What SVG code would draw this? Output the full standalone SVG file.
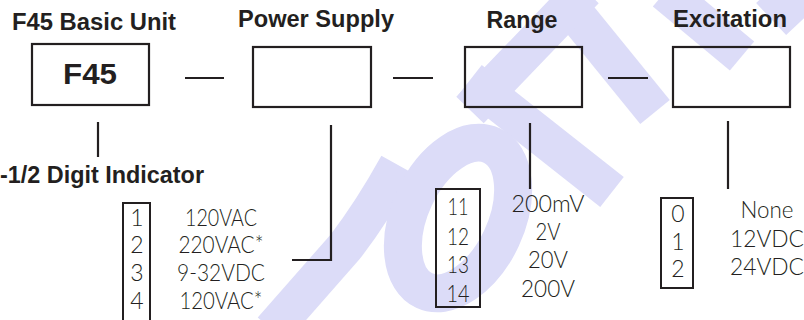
<svg xmlns="http://www.w3.org/2000/svg" width="804" height="320" viewBox="0 0 804 320">
<style>
.wm{fill:none;stroke:#dcdcf8;stroke-width:38;stroke-linecap:butt}
.box{fill:none;stroke:#231f20;stroke-width:2.2}
.ln{fill:none;stroke:#231f20;stroke-width:2.2}
.opt{fill:none;stroke:#231f20;stroke-width:2}
.h{font-family:"Liberation Sans",Arial,sans-serif;font-weight:bold;font-size:23.5px;fill:#231f20}
.big{font-size:29px}
.t{font-family:Lato,Roboto,"Liberation Sans",Arial,sans-serif;font-weight:300;font-size:23px;fill:#231f20}
</style>
<rect width="804" height="320" fill="#fff"/>
<g id="watermark">
<path class="wm" d="M470,80 L612,192"/>
<path class="wm" d="M560,-5 L655,112"/>
<path class="wm" d="M665,-8 L742,56"/>
<path class="wm" d="M770,-10 L800,22"/>
<path class="wm" d="M272,330 L345,247 Q372,212 398,165"/>
<path class="wm" d="M585,-10 L470,110"/>
<ellipse class="wm" cx="458" cy="218" rx="48" ry="80" transform="rotate(25 458 218)" stroke-width="34"/>
</g>
<g id="connectors">
<line class="ln" x1="185" y1="78" x2="224" y2="78"/>
<line class="ln" x1="393" y1="78" x2="433" y2="78"/>
<line class="ln" x1="608" y1="78" x2="648" y2="78"/>
<line class="ln" x1="98" y1="122" x2="98" y2="157"/>
<polyline class="ln" points="331,125 331,260 292,260"/>
<line class="ln" x1="530" y1="123" x2="530" y2="189"/>
<line class="ln" x1="728" y1="121" x2="728" y2="189"/>
</g>
<g id="basic-unit">
<text class="h" x="94" y="30" text-anchor="middle" textLength="164" lengthAdjust="spacingAndGlyphs">F45 Basic Unit</text>
<rect class="box" x="32" y="44" width="117" height="61"/>
<text class="h big" x="90" y="84" text-anchor="middle" textLength="54" lengthAdjust="spacingAndGlyphs">F45</text>
</g>
<g id="indicator">
<text class="h" x="204" y="183" text-anchor="end" textLength="204" lengthAdjust="spacingAndGlyphs">-1/2 Digit Indicator</text>
</g>
<g id="power-supply">
<text class="h" x="316" y="27" text-anchor="middle" textLength="156" lengthAdjust="spacingAndGlyphs">Power Supply</text>
<rect class="box" x="253" y="47" width="118" height="60"/>
</g>
<g id="range">
<text class="h" x="522" y="28" text-anchor="middle" textLength="71" lengthAdjust="spacingAndGlyphs">Range</text>
<rect class="box" x="465" y="47" width="117" height="60"/>
</g>
<g id="excitation">
<text class="h" x="730" y="27" text-anchor="middle" textLength="114" lengthAdjust="spacingAndGlyphs">Excitation</text>
<rect class="box" x="673" y="47" width="117" height="60"/>
</g>
<g id="power-options">
<rect class="opt" x="123" y="203" width="27" height="130"/>
<g class="t" text-anchor="middle">
<text x="137" y="226">1</text>
<text x="137" y="253">2</text>
<text x="137" y="281">3</text>
<text x="137" y="309">4</text>
<text x="221" y="226" textLength="72" lengthAdjust="spacingAndGlyphs">120VAC</text>
<text x="221" y="253" textLength="85" lengthAdjust="spacingAndGlyphs">220VAC*</text>
<text x="221" y="281" textLength="88" lengthAdjust="spacingAndGlyphs">9-32VDC</text>
<text x="221" y="309" textLength="83" lengthAdjust="spacingAndGlyphs">120VAC*</text>
</g>
</g>
<g id="range-options">
<rect class="opt" x="436" y="189" width="44" height="118"/>
<g class="t" text-anchor="middle">
<text x="458" y="215" textLength="21" lengthAdjust="spacingAndGlyphs">11</text>
<text x="458" y="245" textLength="22" lengthAdjust="spacingAndGlyphs">12</text>
<text x="458" y="273" textLength="22" lengthAdjust="spacingAndGlyphs">13</text>
<text x="458" y="302" textLength="23" lengthAdjust="spacingAndGlyphs">14</text>
<text x="548" y="212" textLength="73" lengthAdjust="spacingAndGlyphs">200mV</text>
<text x="548" y="240" textLength="25" lengthAdjust="spacingAndGlyphs">2V</text>
<text x="548" y="268" textLength="40" lengthAdjust="spacingAndGlyphs">20V</text>
<text x="548" y="297" textLength="54" lengthAdjust="spacingAndGlyphs">200V</text>
</g>
</g>
<g id="excitation-options">
<rect class="opt" x="661" y="198" width="32" height="90"/>
<g class="t" text-anchor="middle">
<text x="678" y="222">0</text>
<text x="678" y="250">1</text>
<text x="678" y="277">2</text>
<text x="767" y="218" textLength="53" lengthAdjust="spacingAndGlyphs">None</text>
<text x="767" y="247" textLength="74" lengthAdjust="spacingAndGlyphs">12VDC</text>
<text x="767" y="275" textLength="74" lengthAdjust="spacingAndGlyphs">24VDC</text>
</g>
</g>
</svg>
